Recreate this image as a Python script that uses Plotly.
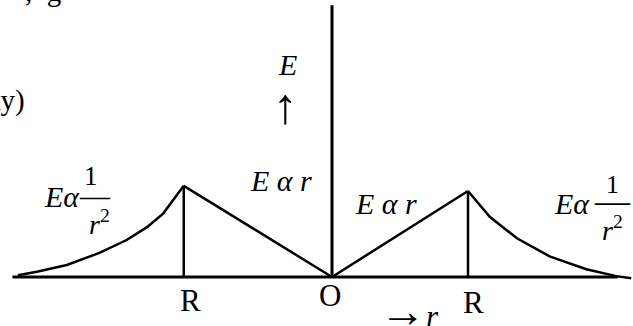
import plotly.graph_objects as go

# field of a uniformly charged sphere, r in units of R (right hand side)
r_axis = [-2.35, 2.10]
E_axis = [0.0, 3.16]

r_out_left = [-2.31, -2.17, -1.95, -1.71, -1.51, -1.36, -1.24, -1.09]
E_out_left = [0.02, 0.06, 0.14, 0.28, 0.43, 0.58, 0.74, 1.06]
r_in_left = [-1.09, 0.0]
E_in_left = [1.06, 0.0]

r_in_right = [0.0, 1.0]
E_in_right = [0.0, 1.0]
r_out_right = [1.0, 1.16, 1.36, 1.60, 1.87, 2.09, 2.20]
E_out_right = [1.0, 0.70, 0.45, 0.24, 0.09, 0.01, -0.015]

R_marks = [-1.09, 1.0]
R_heights = [1.06, 1.0]

serif = "Liberation Serif"
black = "black"

traces = []
traces.append(go.Scatter(x=r_axis, y=[0, 0], mode="lines",
                         line=dict(color=black, width=3)))
traces.append(go.Scatter(x=[0, 0], y=E_axis, mode="lines",
                         line=dict(color=black, width=3)))
for xs, ys in [(r_out_left, E_out_left), (r_in_left, E_in_left),
               (r_in_right, E_in_right), (r_out_right, E_out_right)]:
    traces.append(go.Scatter(x=xs, y=ys, mode="lines",
                             line=dict(color=black, width=2.5)))
for rx, h in zip(R_marks, R_heights):
    traces.append(go.Scatter(x=[rx, rx], y=[0, h], mode="lines",
                             line=dict(color=black, width=2.5)))


def label(x, y, text, size=30, **kw):
    return dict(x=x, y=y, xref="x", yref="y", text=text, showarrow=False,
                xanchor="center", yanchor="middle",
                font=dict(family=serif, size=size, color=black), **kw)


annotations = [
    label(-0.33, 2.47, "<i>E</i>"),
    label(-0.345, 1.985, "↑", size=50),
    label(-0.375, 1.12, "<i>E α r</i>"),
    label(0.395, 0.85, "<i>E α r</i>"),
    # left  E α 1/r^2
    label(-1.985, 0.94, "<i>Eα</i>"),
    label(-1.77, 1.17, "1", size=27),
    label(-1.74, 0.95, "—", size=30),
    label(-1.71, 0.63, "<i>r</i><sup>2</sup>", size=28),
    # right  E α 1/r^2
    label(1.765, 0.85, "<i>Eα</i>"),
    label(2.06, 1.07, "1", size=26),
    label(2.063, 0.88, "—", size=35),
    label(2.06, 0.56, "<i>r</i><sup>2</sup>", size=28),
    # axis labels
    label(-1.04, -0.27, "R", size=31),
    label(-0.015, -0.22, "O", size=31),
    label(1.04, -0.30, "R", size=31),
    label(0.57, -0.40, "<span style='font-size:46px'>→</span><i>r</i>", size=31),
    # text cut off by the crop
    dict(x=27 / 633, y=1 - 100 / 326, xref="paper", yref="paper", text="ky)",
         xanchor="right", yanchor="middle", showarrow=False,
         font=dict(family=serif, size=29, color=black)),
    dict(x=23 / 633, y=1.0, xref="paper", yref="paper", text=",  g",
         xanchor="left", yanchor="middle", yshift=9, showarrow=False,
         font=dict(family=serif, size=29, color=black)),
]

layout = dict(
    width=633, height=326,
    margin=dict(l=0, r=0, t=0, b=0),
    paper_bgcolor="white", plot_bgcolor="white",
    showlegend=False,
    xaxis=dict(range=[-332 / 136, 301 / 136], visible=False, fixedrange=True),
    yaxis=dict(range=[-49 / 86, 277 / 86], visible=False, fixedrange=True),
    annotations=annotations,
)

fig = go.Figure(data=traces, layout=layout)
fig.write_html("out.html", config=dict(displayModeBar=False),
               post_script="document.body.style.margin='0px';")
